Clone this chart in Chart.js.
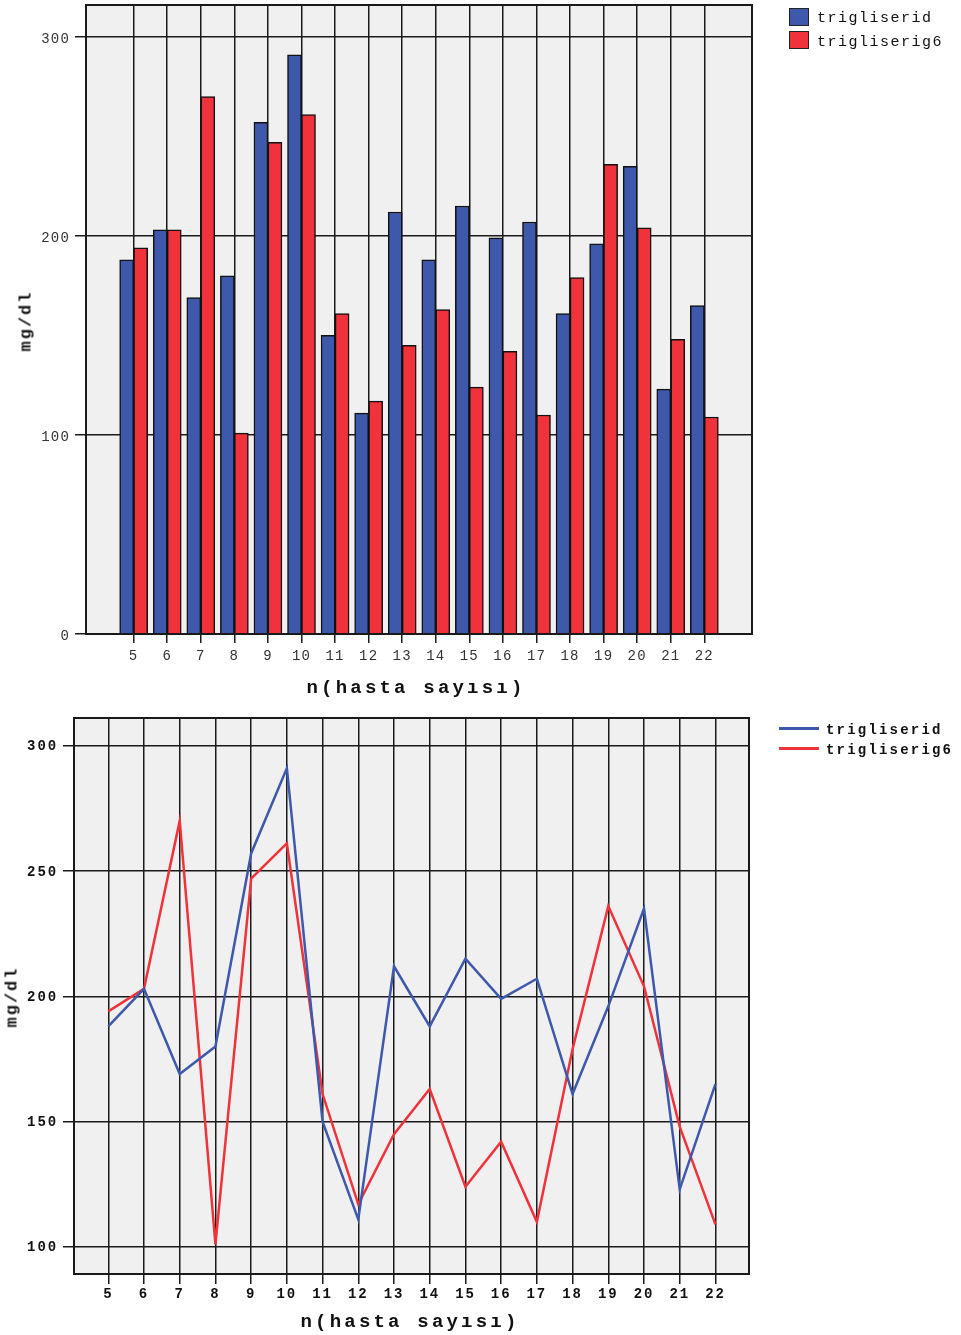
<!DOCTYPE html>
<html>
<head>
<meta charset="utf-8">
<script src="https://cdn.jsdelivr.net/npm/chart.js@4.4.1/dist/chart.umd.min.js"></script>
<style>
  html, body { margin: 0; padding: 0; background: #ffffff; }
  #page { position: relative; width: 961px; height: 1335px; overflow: hidden; background: #fff; }
  canvas { position: absolute; left: 0; }
  .txt { position: absolute; font-family: "Liberation Mono", "DejaVu Sans Mono", monospace; color: #111; white-space: nowrap; line-height: 1; }
  .xtitle { font-weight: bold; font-size: 19px; letter-spacing: 3.2px; transform: translate(-50%, -50%); }
  .ytitle { font-weight: bold; font-size: 17px; letter-spacing: 2px; transform: translate(-50%, -50%) rotate(-90deg); }
  .leg1 { font-size: 15px; letter-spacing: 1.5px; transform: translateY(-50%); }
  .leg2 { font-size: 14px; font-weight: bold; letter-spacing: 2.2px; transform: translateY(-50%); }
  .sw { position: absolute; width: 18px; height: 16px; border: 1.5px solid #222; }
  .ln { position: absolute; width: 40px; height: 3px; }
</style>
</head>
<body>
<div id="page">
  <canvas id="barChart" width="961" height="700" style="top:0"></canvas>
  <canvas id="lineChart" width="961" height="635" style="top:700px"></canvas>

  <div class="sw" style="left:789px; top:8px; background:#3E58AB"></div>
  <div class="txt leg1" style="left:817px; top:18px">trigliserid</div>
  <div class="sw" style="left:789px; top:31px; background:#F0323A"></div>
  <div class="txt leg1" style="left:817px; top:42px">trigliserig6</div>

  <div class="txt xtitle" style="left:416px; top:688px">n(hasta sayısı)</div>
  <div class="txt ytitle" style="left:26px; top:321px">mg/dl</div>

  <div class="ln" style="left:779px; top:727px; background:#3E58AB"></div>
  <div class="txt leg2" style="left:826px; top:730px">trigliserid</div>
  <div class="ln" style="left:779px; top:747px; background:#F0323A"></div>
  <div class="txt leg2" style="left:826px; top:750px">trigliserig6</div>

  <div class="txt xtitle" style="left:410px; top:1322px">n(hasta sayısı)</div>
  <div class="txt ytitle" style="left:12px; top:997px">mg/dl</div>
</div>
<script>
// ---- data ----
const categories   = [5, 6, 7, 8, 9, 10, 11, 12, 13, 14, 15, 16, 17, 18, 19, 20, 21, 22];
const trigliserid  = [188, 203, 169, 180, 257, 291, 150, 111, 212, 188, 215, 199, 207, 161, 196, 235, 123, 165];
const trigliserig6 = [194, 203, 270, 101, 247, 261, 161, 117, 145, 163, 124, 142, 110, 179, 236, 204, 148, 109];
const barYTicks  = [0, 100, 200, 300];
const lineYTicks = [100, 150, 200, 250, 300];
const seriesNames = ['trigliserid', 'trigliserig6'];

const BLUE = '#3E58AB';
const RED = '#F0323A';
const GRID = '#1a1a1a';
const PLOT_BG = '#F0F0F0';

function pts(vals) { return categories.map((c, i) => ({ x: c, y: vals[i] })); }

function framePlugin(spacing) {
  return {
    id: 'frame',
    beforeDraw(chart) {
      const { ctx, chartArea: a } = chart;
      ctx.letterSpacing = spacing;
      ctx.save();
      ctx.fillStyle = PLOT_BG;
      ctx.fillRect(a.left, a.top, a.right - a.left, a.bottom - a.top);
      ctx.restore();
    },
    afterDatasetsDraw(chart) {
      const { ctx, chartArea: a } = chart;
      ctx.save();
      ctx.strokeStyle = GRID;
      ctx.lineWidth = 2;
      ctx.strokeRect(a.left, a.top, a.right - a.left, a.bottom - a.top);
      ctx.restore();
    }
  };
}

function zeroPad(scale) {
  scale.paddingTop = 0; scale.paddingBottom = 0;
  scale.paddingLeft = 0; scale.paddingRight = 0;
}

// ---- bar chart ----
new Chart(document.getElementById('barChart'), {
  type: 'bar',
  data: {
    datasets: [
      { label: seriesNames[0], data: pts(trigliserid), backgroundColor: BLUE, borderColor: '#111', borderWidth: 1.5, barThickness: 14 },
      { label: seriesNames[1], data: pts(trigliserig6), backgroundColor: RED, borderColor: '#111', borderWidth: 1.5, barThickness: 14 }
    ]
  },
  options: {
    responsive: false,
    animation: false,
    layout: { padding: { left: 0, top: 5, right: 209, bottom: 0 } },
    plugins: { legend: { display: false }, tooltip: { enabled: false } },
    scales: {
      x: {
        type: 'linear', min: 3.58, max: 23.42, offset: false,
        afterBuildTicks: s => { s.ticks = categories.map(v => ({ value: v })); },
        afterFit: s => { s.height = 66; zeroPad(s); },
        grid: { color: GRID, lineWidth: 1.5, tickLength: 9, drawTicks: true, offset: false },
        border: { display: false },
        ticks: { autoSkip: false, maxRotation: 0, padding: 5, color: '#333',
                 font: { family: 'Liberation Mono', size: 14 } }
      },
      y: {
        min: 0, max: 316,
        afterBuildTicks: s => { s.ticks = barYTicks.map(v => ({ value: v })); },
        afterFit: s => { s.width = 86; zeroPad(s); },
        grid: { color: GRID, lineWidth: 1.5, tickLength: 11 },
        border: { display: false },
        ticks: { padding: 5, labelOffset: 2, color: '#333', font: { family: 'Liberation Mono', size: 14 } }
      }
    }
  },
  plugins: [framePlugin('1.2px')]
});

// ---- line chart ----
new Chart(document.getElementById('lineChart'), {
  type: 'line',
  data: {
    datasets: [
      { label: seriesNames[0], data: pts(trigliserid), borderColor: BLUE, backgroundColor: BLUE, borderWidth: 2.5, pointRadius: 0, tension: 0, fill: false },
      { label: seriesNames[1], data: pts(trigliserig6), borderColor: RED, backgroundColor: RED, borderWidth: 2.5, pointRadius: 0, tension: 0, fill: false }
    ]
  },
  options: {
    responsive: false,
    animation: false,
    layout: { padding: { left: 0, top: 18, right: 212, bottom: 0 } },
    plugins: { legend: { display: false }, tooltip: { enabled: false } },
    scales: {
      x: {
        type: 'linear', min: 4.04, max: 22.94, offset: false,
        afterBuildTicks: s => { s.ticks = categories.map(v => ({ value: v })); },
        afterFit: s => { s.height = 61; zeroPad(s); },
        grid: { color: GRID, lineWidth: 1.5, tickLength: 10, offset: false },
        border: { display: false },
        ticks: { autoSkip: false, maxRotation: 0, padding: 2, color: '#111',
                 font: { family: 'Liberation Mono', size: 14, weight: 'bold' } }
      },
      y: {
        min: 89.2, max: 311.05,
        afterBuildTicks: s => { s.ticks = lineYTicks.map(v => ({ value: v })); },
        afterFit: s => { s.width = 74; zeroPad(s); },
        grid: { color: GRID, lineWidth: 1.5, tickLength: 11 },
        border: { display: false },
        ticks: { padding: 5, labelOffset: 1, color: '#111', font: { family: 'Liberation Mono', size: 14, weight: 'bold' } }
      }
    }
  },
  plugins: [framePlugin('1.9px')]
});
</script>
</body>
</html>
